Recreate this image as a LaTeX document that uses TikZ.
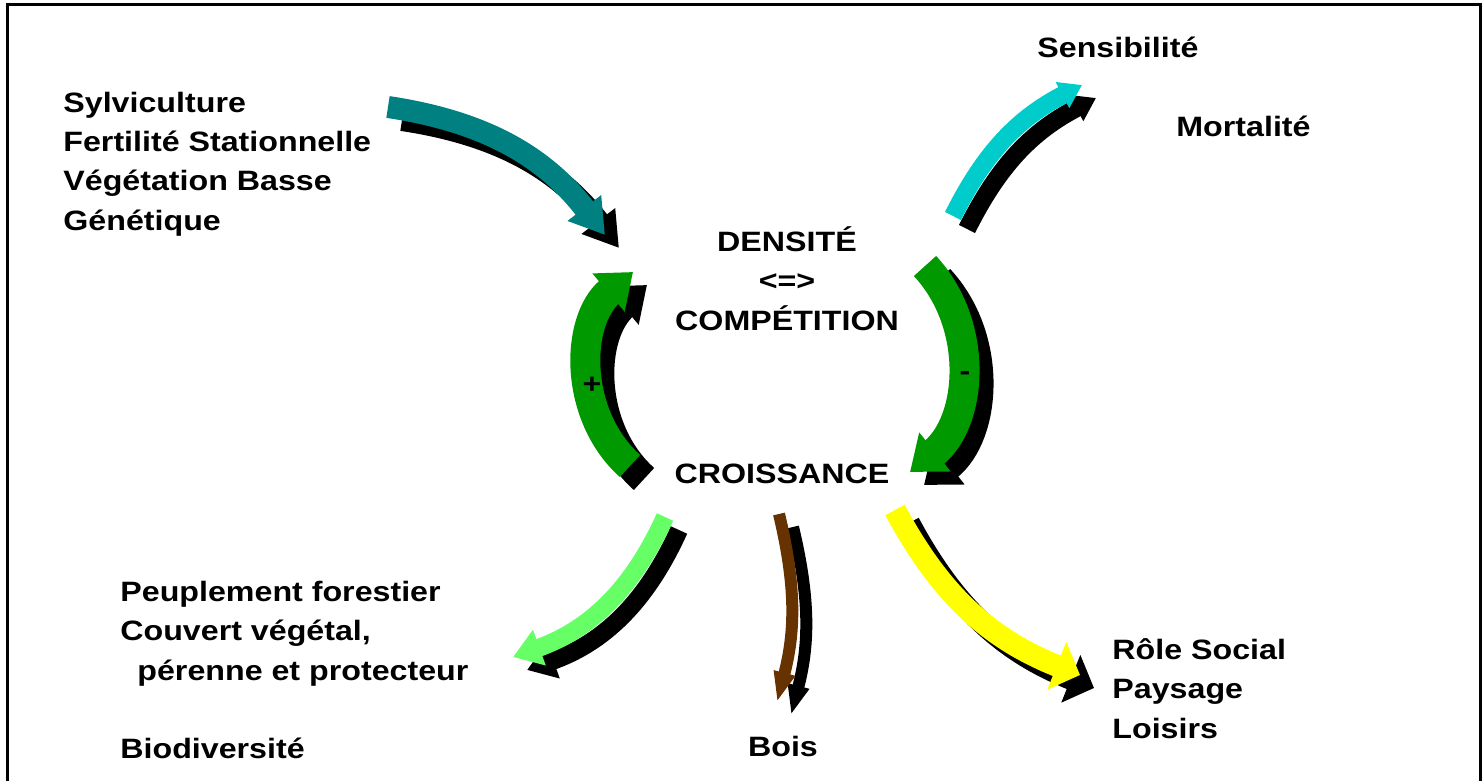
\documentclass[tikz,border=0pt]{standalone}
\usepackage{fontspec}
\setmainfont[FakeStretch=1.15]{Liberation Sans}
\usetikzlibrary{arrows.meta}
\usetikzlibrary{positioning}

\definecolor{flowteal}{HTML}{008080}
\definecolor{flowcyan}{HTML}{00CCCC}
\definecolor{flowgreen}{HTML}{009900}
\definecolor{flowlight}{HTML}{66FF66}
\definecolor{flowbrown}{HTML}{663300}
\definecolor{flowyellow}{HTML}{FFFF00}

\tikzset{
  lbl/.style={font=\fontsize{14}{19.65}\selectfont\bfseries, inner sep=0pt, align=left},
  flow/.style n args={3}{line width=#1, -{Triangle[length=#2, width=#3]}},
}

\begin{document}
\begin{tikzpicture}[x=0.5pt, y=0.5pt]
  \useasboundingbox (0,0) rectangle (1482,-781);
  \draw [line width=1.5pt] (7,-800) |- (1480,-5) -- (1480,-800);

  % ends of the flows
  \coordinate (silvT) at (388,-107);
  \coordinate (silvH) at (605,-235);
  \coordinate (sensT) at (953,-216);
  \coordinate (sensH) at (1082,-85);
  \coordinate (plusT) at (630,-466);
  \coordinate (plusH) at (633,-272);
  \coordinate (minusT) at (925,-266);
  \coordinate (minusH) at (910,-472);
  \coordinate (peupT) at (665,-517);
  \coordinate (peupH) at (513,-657);
  \coordinate (boisT) at (779,-514);
  \coordinate (boisH) at (777,-702);
  \coordinate (roleT) at (895,-510);
  \coordinate (roleH) at (1080,-675);

  \foreach \from/\to/\bend/\col/\wd/\hl/\hw in {
      silvT/silvH/22/flowteal/11pt/17pt/20pt,
      sensT/sensH/18/flowcyan/9pt/11pt/14pt,
      plusT/plusH/49/flowgreen/15pt/16pt/24pt,
      minusT/minusH/47/flowgreen/15pt/16pt/24pt,
      peupT/peupH/23/flowlight/9pt/14pt/18pt,
      boisT/boisH/14/flowbrown/6pt/15pt/10pt,
      roleT/roleH/-20/flowyellow/11pt/12.5pt/25pt}
  {
    \draw [flow={\wd}{\hl}{\hw}, black, transform canvas={shift={(7pt,-6.5pt)}}] (\from) to [bend left=\bend] (\to);
    \draw [flow={\wd}{\hl}{\hw}, \col] (\from) to [bend left=\bend] (\to);
  }

  % multi-line texts: base is the last line
  \node [lbl, anchor=base west] (inputs) at (63,-230) {Sylviculture\\Fertilité Stationnelle\\Végétation Basse\\Génétique};
  \node [lbl, anchor=base west] (sens) at (1037,-58) {Sensibilité};
  \node [lbl, anchor=base west] (mort) at (1176,-136) {Mortalité};
  \node [lbl, align=center, anchor=base] (dens) at (787,-330) {DENSITÉ\\<=>\\COMPÉTITION};
  \node [lbl, anchor=base] (croiss) at (782,-483) {CROISSANCE};
  \node [lbl, anchor=base west] (peup) at (120,-680) {Peuplement forestier\\Couvert végétal,\\\hspace*{8.5pt}pérenne et protecteur};
  \node [lbl, anchor=base west] (bio) at (120,-758) {Biodiversité};
  \node [lbl, anchor=base] (bois) at (783,-756) {Bois};
  \node [lbl, anchor=base west] (role) at (1112,-738) {Rôle Social\\Paysage\\Loisirs};

  \node [lbl] (plus) at (592,-385) {+};
  \node [lbl] (minus) at (965,-376) {-};
\end{tikzpicture}
\end{document}
